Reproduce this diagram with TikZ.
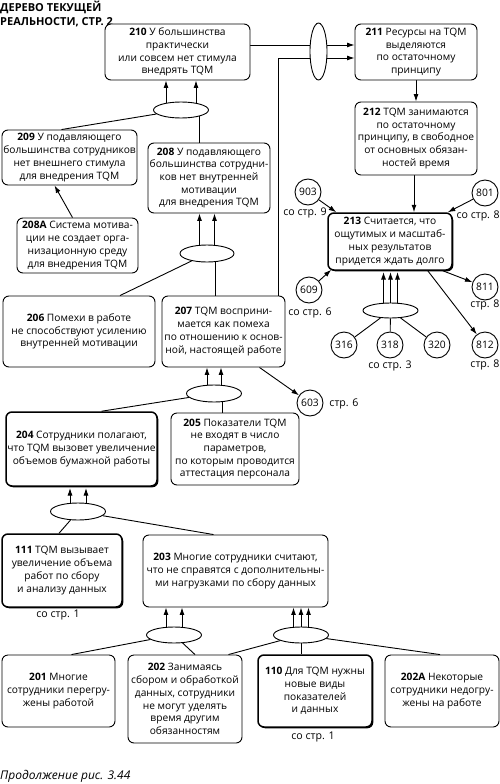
\documentclass[tikz,border=0pt]{standalone}
\usepackage{fontspec}
\setmainfont{Open Sans}
\usetikzlibrary{shapes.geometric,arrows.meta,shadows,backgrounds}

\tikzset{
  box/.style={draw, rounded corners=6pt, fill=white, align=center, inner sep=1pt, line width=0.9pt, font=\fontsize{10.2}{12.7}\selectfont},
  keybox/.style={box, line width=1.5pt, drop shadow={shadow xshift=1.3pt, shadow yshift=-1.3pt, fill=black, opacity=1}},
  andnode/.style={draw, ellipse, fill=white, line width=0.9pt, inner sep=0pt},
  refnode/.style={draw, circle, fill=white, line width=0.9pt, minimum size=26pt, inner sep=0pt, font=\fontsize{10.3}{12}\selectfont},
  note/.style={font=\fontsize{10.6}{12}\selectfont, inner sep=0pt},
  arr/.style={-{Latex[length=7.5pt,width=5pt]}, line width=0.9pt},
  link/.style={line width=0.9pt}
}

\begin{document}
\begin{tikzpicture}[x=1pt, y=-1pt]
\useasboundingbox (0,0) rectangle (500,784);
% title
\node[anchor=north west, align=left, inner sep=0pt, font=\fontsize{11}{13.5}\selectfont\bfseries] (title) at (0,1) {ДЕРЕВО ТЕКУЩЕЙ\\РЕАЛЬНОСТИ, СТР. 2};
% boxes
\node[box, minimum width=145, minimum height=56] (n210) at (177.5,52) {\textbf{210} У большинства\\практически\\или совсем нет стимула\\внедрять TQM};
\node[box, minimum width=122, minimum height=56] (n211) at (416,52) {\textbf{211} Ресурсы на TQM\\выделяются\\по остаточному\\принципу};
\node[box, minimum width=122, minimum height=73] (n212) at (416,138.5) {\textbf{212} TQM занимаются\\по остаточному\\принципу, в свободное\\от основных обязан-\\ностей время};
\node[keybox, minimum width=124, minimum height=57] (n213) at (390,241.5) {\textbf{213} Считается, что\\ощутимых и масштаб-\\ных результатов\\придется ждать долго};
\node[box, minimum width=135, minimum height=55] (n209) at (69.5,157.5) {\textbf{209} У подавляющего\\большинства сотрудников\\нет внешнего стимула\\для внедрения TQM};
\node[box, minimum width=122, minimum height=70] (n208) at (209,178) {\textbf{208} У подавляющего\\большинства сотрудни-\\ков нет внутренней\\мотивации\\для внедрения TQM};
\node[box, minimum width=121, minimum height=55] (n208a) at (77.5,245.5) {\textbf{208А} Система мотива-\\ции не создает орга-\\низационную среду\\для внедрения TQM};
\node[box, minimum width=152, minimum height=71] (n206) at (79,331.5) {\textbf{206} Помехи в работе\\не способствуют усилению\\внутренней мотивации};
\node[box, minimum width=123, minimum height=71] (n207) at (223.5,331.5) {\textbf{207} TQM восприни-\\мается как помеха\\по отношению к основ-\\ной, настоящей работе};
\node[keybox, minimum width=151, minimum height=74] (n204) at (81.5,449) {\textbf{204} Сотрудники полагают,\\что TQM вызовет увеличение\\объемов бумажной работы};
\node[box, minimum width=128, minimum height=72] (n205) at (235,449) {\textbf{205} Показатели TQM\\не входят в число\\параметров,\\по которым проводится\\аттестация персонала};
\node[keybox, minimum width=120, minimum height=73] (n111) at (62,570.5) {\textbf{111} TQM вызывает\\увеличение объема\\работ по сбору\\и анализу данных};
\node[box, minimum width=185, minimum height=72] (n203) at (235.5,571) {\textbf{203} Многие сотрудники считают,\\что не справятся с дополнительны-\\ми нагрузками по сбору данных};
\node[box, minimum width=113, minimum height=72] (n201) at (58.5,691) {\textbf{201} Многие\\сотрудники перегру-\\жены работой};
\node[box, minimum width=114, minimum height=88] (n202) at (185,699) {\textbf{202} Занимаясь\\сбором и обработкой\\данных, сотрудники\\не могут уделять\\время другим\\обязанностям};
\node[keybox, minimum width=114, minimum height=72] (n110) at (315,691) {\textbf{110} Для TQM нужны\\новые виды\\показателей\\и данных};
\node[box, minimum width=114, minimum height=72] (n202a) at (442,691) {\textbf{202А} Некоторые\\сотрудники недогру-\\жены на работе};
% junctions
\node[andnode, minimum width=17, minimum height=57] (e211) at (318.5,51.5) {};
\node[andnode, minimum width=55, minimum height=16] (e210) at (181,110) {};
\node[andnode, minimum width=54, minimum height=17] (e208) at (207,253.5) {};
\node[andnode, minimum width=55, minimum height=17] (e207) at (214,393.5) {};
\node[andnode, minimum width=55, minimum height=17] (e204) at (78,511.5) {};
\node[andnode, minimum width=55, minimum height=16] (e203l) at (174,635) {};
\node[andnode, minimum width=55, minimum height=16] (e203r) at (301,635) {};
\node[andnode, minimum width=55, minimum height=15] (e213) at (390.5,310.5) {};
% references to other pages
\node[refnode] (c903) at (308,192) {903};
\node[refnode] (c801) at (485,193) {801};
\node[refnode] (c609) at (309,290) {609};
\node[refnode] (c811) at (485,287) {811};
\node[refnode] (c812) at (485,345) {812};
\node[refnode] (c316) at (344,345) {316};
\node[refnode] (c318) at (390,345) {318};
\node[refnode] (c320) at (437,345) {320};
\node[refnode] (c603) at (310,403) {603};
\node[note] (l903) at (305,213) {со стр. 9};
\node[note, anchor=east] (l801) at (500,216) {со стр. 8};
\node[note] (l609) at (310,313) {со стр. 6};
\node[note] (l811) at (485,305) {стр. 8};
\node[note] (l812) at (485,365) {стр. 8};
\node[note] (l318) at (390,366) {со стр. 3};
\node[note] (l603) at (344,404) {стр. 6};
\node[note] (l111) at (58,615) {со стр. 1};
\node[note] (l110) at (313,737) {со стр. 1};
\node[anchor=south west, inner sep=0pt, font=\fontsize{12}{14}\selectfont\itshape] (caption) at (0,783) {Продолжение рис. 3.44};
% connectors
\begin{scope}[on background layer]
\draw[arr] ([yshift=7pt]n210.east) -- ([yshift=7pt]n210.east -| n211.west);
\draw[arr] ([xshift=-7pt]n207.north east) |- ([yshift=-6pt]n211.west);
\draw[arr] (n211) -- (n212);
\draw[arr] ([xshift=-2pt]n212.south) -- ([xshift=-2pt]n212.south |- n213.north);
\draw[arr] (c903) -- ([xshift=9pt]n213.north west);
\draw[arr] (c801) -- ([xshift=-5pt]n213.north east);
\draw[arr] (c609) -- ([xshift=4pt,yshift=1pt]n213.south west);
\draw[link] ([xshift=-10pt]n213.south east) edge[arr] (c811);
\draw[link] ([xshift=-25pt]n213.south east) edge[arr] (c812);
\foreach \dx in {-7,0,7}
  \draw[arr, shorten >=1.3pt] ([xshift=\dx pt]e213.center) -- ([xshift=\dx pt]e213.center |- n213.south);
\foreach \c in {c316,c318,c320}
  \draw[link] (\c) -- (e213);
% 210
\foreach \dx in {-15,15}
  \draw[arr] ([xshift=\dx pt]e210.center) -- ([xshift=\dx pt]e210.center |- n210.south);
\draw[link] (e210) -- ([xshift=-8pt]n209.north);
\draw[link] ([xshift=18pt]e210.center) -- ([xshift=18pt]e210.center |- n208.north);
\draw[arr] ([xshift=-5pt]n208a.north) -- ([xshift=-15pt]n209.south);
% 208
\foreach \dx in {-7.5,7.5}
  \draw[arr] ([xshift=\dx pt]e208.center) -- ([xshift=\dx pt]e208.center |- n208.south);
\draw[link] (e208) -- ([xshift=41pt]n206.north);
\draw[link] ([xshift=8pt]e208.center) -- ([xshift=8pt]e208.center |- n207.north);
\draw[arr] ([xshift=36pt]n207.south) -- (c603);
% 207
\foreach \dx in {-7,7}
  \draw[arr] ([xshift=\dx pt]e207.center) -- ([xshift=\dx pt]e207.center |- n207.south);
\draw[link] (e207) -- ([xshift=20pt]n204.north);
\draw[link] ([xshift=8pt]e207.center) -- ([xshift=8pt]e207.center |- n205.north);
% 204
\foreach \dx in {-8,8}
  \draw[arr, shorten >=1.3pt] ([xshift=\dx pt]e204.center) -- ([xshift=\dx pt]e204.center |- n204.south);
\draw[link] (e204) -- ([xshift=-3pt]n111.north);
\draw[link] (e204) -- ([xshift=-22pt]n203.north);
% 203
\foreach \dx in {-8,8}
  \draw[arr] ([xshift=\dx pt]e203l.center) -- ([xshift=\dx pt]e203l.center |- n203.south);
\foreach \dx in {-7.5,0,7.5}
  \draw[arr] ([xshift=\dx pt]e203r.center) -- ([xshift=\dx pt]e203r.center |- n203.south);
\draw[link] (e203l) -- ([xshift=13pt]n201.north);
\draw[link] (e203l) -- ([xshift=10pt]n202.north);
\draw[link] (e203r) -- ([xshift=-14pt]n202.north east);
\draw[link] (e203r.center) -- (e203r.center |- n110.north);
\draw[link] (e203r) -- ([xshift=-2pt]n202a.north);
\end{scope}
\end{tikzpicture}
\end{document}
